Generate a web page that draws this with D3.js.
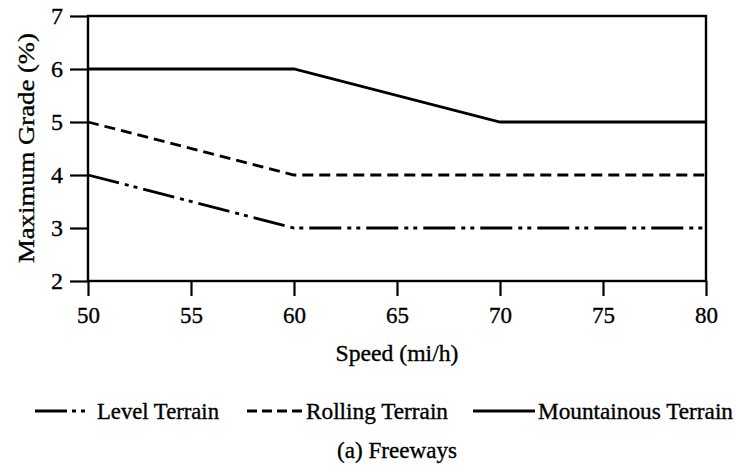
<!DOCTYPE html>
<html>
<head>
<meta charset="utf-8">
<script src="https://cdn.jsdelivr.net/npm/d3@7"></script>
<style>
  body { margin: 0; background: #fff; }
  text { font-family: "Liberation Serif", "DejaVu Serif", serif; fill: #000; stroke: #000; stroke-width: 0.35; }
</style>
</head>
<body>
<svg id="chart" width="736" height="474"></svg>
<script>
'use strict';

// values
const speeds = [50, 60, 70, 80];
const levelGrade = [4, 3, 3, 3];
const rollingGrade = [5, 4, 4, 4];
const mountainGrade = [6, 6, 5, 5];
const xTicks = [50, 55, 60, 65, 70, 75, 80];
const yTicks = [2, 3, 4, 5, 6, 7];

const series = [
    {name: 'Level Terrain', values: levelGrade, dash: '32,6,4,5,4,6'},
    {name: 'Rolling Terrain', values: rollingGrade, dash: '11,6'},
    {name: 'Mountainous Terrain', values: mountainGrade, dash: null}
];

const svg = d3.select('#chart');
const ink = '#000';

const x = d3.scaleLinear().domain([50, 80]).range([88, 706]);
const y = d3.scaleLinear().domain([2, 7]).range([281, 16]);

// frame
svg.append('rect')
    .attr('x', x(50)).attr('y', y(7))
    .attr('width', x(80) - x(50)).attr('height', y(2) - y(7))
    .attr('fill', 'none').attr('stroke', ink).attr('stroke-width', 2.4);

// x axis, ticks hang below the frame
const xAxis = svg.append('g')
    .attr('transform', `translate(0,${y(2)})`)
    .call(d3.axisBottom(x).tickValues(xTicks).tickSize(15).tickPadding(10).tickFormat(d3.format('d')));
xAxis.select('.domain').remove();
xAxis.selectAll('line').attr('stroke', ink).attr('stroke-width', 2.2);
xAxis.selectAll('text')
    .attr('font-size', 24)
    .attr('textLength', 23).attr('lengthAdjust', 'spacingAndGlyphs');

// y axis, ticks stick out to the left
const yAxis = svg.append('g')
    .attr('transform', `translate(${x(50)},0)`)
    .call(d3.axisLeft(y).tickValues(yTicks).tickSize(18).tickPadding(7).tickFormat(d3.format('d')));
yAxis.select('.domain').remove();
yAxis.selectAll('line').attr('stroke', ink).attr('stroke-width', 2.2);
yAxis.selectAll('text').attr('font-size', 24);

// axis titles
svg.append('text')
    .attr('x', x(65)).attr('y', 361)
    .attr('text-anchor', 'middle').attr('font-size', 23)
    .attr('textLength', 123).attr('lengthAdjust', 'spacingAndGlyphs')
    .text('Speed (mi/h)');

svg.append('text')
    .attr('transform', `translate(34,148) rotate(-90)`)
    .attr('text-anchor', 'middle').attr('font-size', 23)
    .attr('textLength', 230).attr('lengthAdjust', 'spacingAndGlyphs')
    .text('Maximum Grade (%)');

// series lines
const line = d3.line()
    .x((d, i) => x(speeds[i]))
    .y(d => y(d));

svg.selectAll('path.series')
    .data(series)
    .enter()
    .append('path')
    .attr('class', 'series')
    .attr('d', d => line(d.values))
    .attr('fill', 'none')
    .attr('stroke', ink)
    .attr('stroke-width', 2.8)
    .attr('stroke-dasharray', d => d.dash);

// legend (one swatch + label per series)
const legendItems = [
    {line: [35, 89], textX: 97, textLen: 122, dash: '32,5,4,5,4,30'},
    {line: [247, 302], textX: 306, textLen: 142, dash: '10,5'},
    {line: [473, 535], textX: 538, textLen: 195, dash: null}
];

svg.append('g').selectAll('g')
    .data(series)
    .enter()
    .append('g')
    .each(function (d, i) {
        let item = legendItems[i];
        let g = d3.select(this);
        g.append('line')
            .attr('x1', item.line[0]).attr('x2', item.line[1])
            .attr('y1', 411).attr('y2', 411)
            .attr('stroke', ink).attr('stroke-width', 2.8)
            .attr('stroke-dasharray', item.dash);
        g.append('text')
            .attr('x', item.textX).attr('y', 419)
            .attr('font-size', 23)
            .attr('textLength', item.textLen).attr('lengthAdjust', 'spacingAndGlyphs')
            .text(d.name);
    });

svg.append('text')
    .attr('x', x(65)).attr('y', 458)
    .attr('text-anchor', 'middle').attr('font-size', 23)
    .attr('textLength', 120).attr('lengthAdjust', 'spacingAndGlyphs')
    .text('(a) Freeways');
</script>
</body>
</html>
